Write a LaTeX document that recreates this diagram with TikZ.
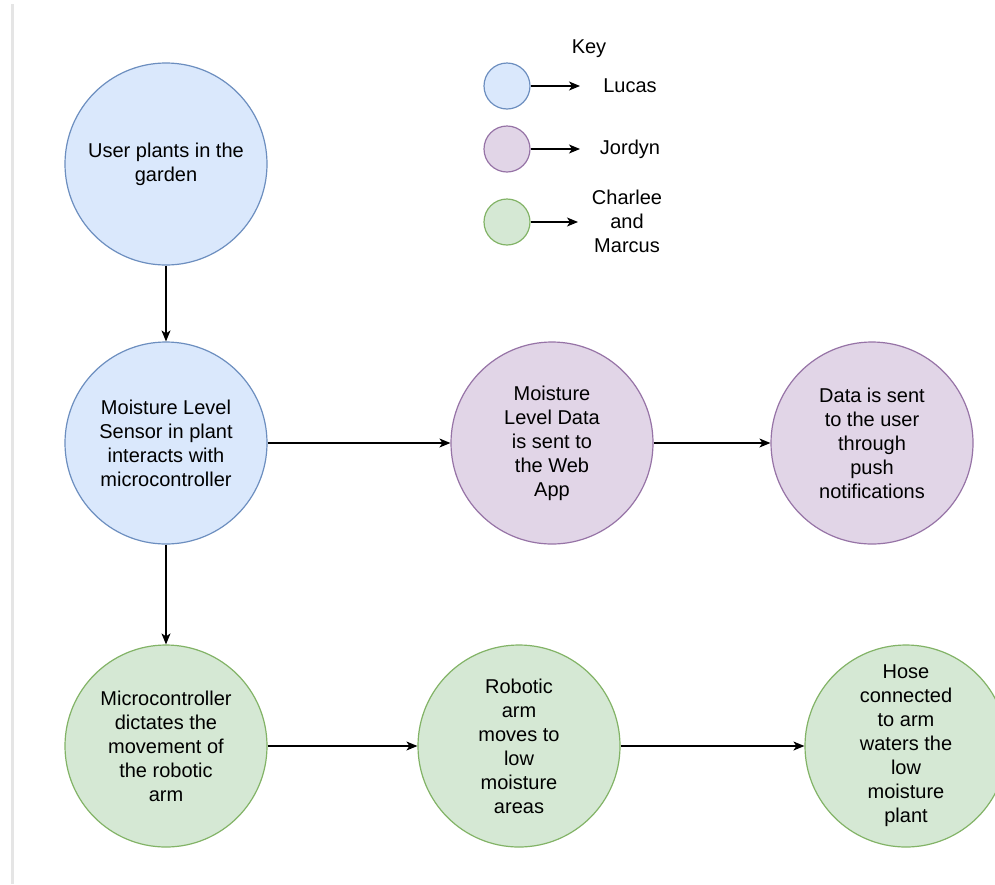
\documentclass[tikz,border=0pt]{standalone}
\usepackage{fontspec}
\setmainfont{Liberation Sans}
\usetikzlibrary{arrows.meta}

\definecolor{lucasfill}{HTML}{DAE8FC}
\definecolor{lucasline}{HTML}{6C8EBF}
\definecolor{jordynfill}{HTML}{E1D5E7}
\definecolor{jordynline}{HTML}{9673A6}
\definecolor{teamfill}{HTML}{D5E8D4}
\definecolor{teamline}{HTML}{82B366}

\begin{document}
\begin{tikzpicture}[x=1pt,y=-1pt,
  font=\fontsize{20}{24}\selectfont,
  task/.style={circle,minimum size=202pt,inner sep=0pt,line width=1.2pt,align=center},
  lucasnode/.style={task,draw=lucasline,fill=lucasfill},
  jordynnode/.style={task,draw=jordynline,fill=jordynfill},
  teamnode/.style={task,draw=teamline,fill=teamfill},
  keydot/.style={minimum size=46pt},
  flow/.style={line width=1.3pt,-{Stealth[length=11pt,width=9pt,inset=3pt]}}]
\useasboundingbox (0,0) rectangle (995,884);
\clip (0,0) rectangle (995,884);
\draw [line width=3pt,black!10] (12,4) -- (12,884);
% key
\node (key) at(589,49){Key};
\node [lucasnode,keydot] (k1) at(507,86){};
\node [jordynnode,keydot] (k2) at(507,149){};
\node [teamnode,keydot] (k3) at(507,222){};
\coordinate (ka1) at(580,86);
\coordinate (ka2) at(580,149);
\coordinate (ka3) at(578,222);
\node (lucas) at(630,86){Lucas};
\node (jordyn) at(630,149){Jordyn};
\node [align=center] (charlee) at(627,221){Charlee\\and\\Marcus};
\draw[flow](k1) -- (ka1);
\draw[flow](k2) -- (ka2);
\draw[flow](k3) -- (ka3);
% flow chart
\node [lucasnode] (plant) at(166,164){User plants in the\\garden};
\node [lucasnode] (sensor) at(166,443){Moisture Level\\Sensor in plant\\interacts with\\microcontroller};
\node [jordynnode] (webapp) at(552,443){Moisture\\Level Data\\is sent to\\the Web\\App};
\node [jordynnode] (push) at(872,443){Data is sent\\to the user\\through\\push\\notifications};
\node [teamnode] (micro) at(166,746){Microcontroller\\dictates the\\movement of\\the robotic\\arm};
\node [teamnode] (arm) at(519,746){Robotic\\arm\\moves to\\low\\moisture\\areas};
\node [teamnode] (hose) at(906,746){Hose\\connected\\to arm\\waters the\\low\\moisture\\plant};
\draw[flow](plant) -- (sensor);
\draw[flow](sensor) -- (webapp);
\draw[flow](webapp) -- (push);
\draw[flow](sensor) -- (micro);
\draw[flow](micro) -- (arm);
\draw[flow](arm) -- (hose);
\end{tikzpicture}
\end{document}
